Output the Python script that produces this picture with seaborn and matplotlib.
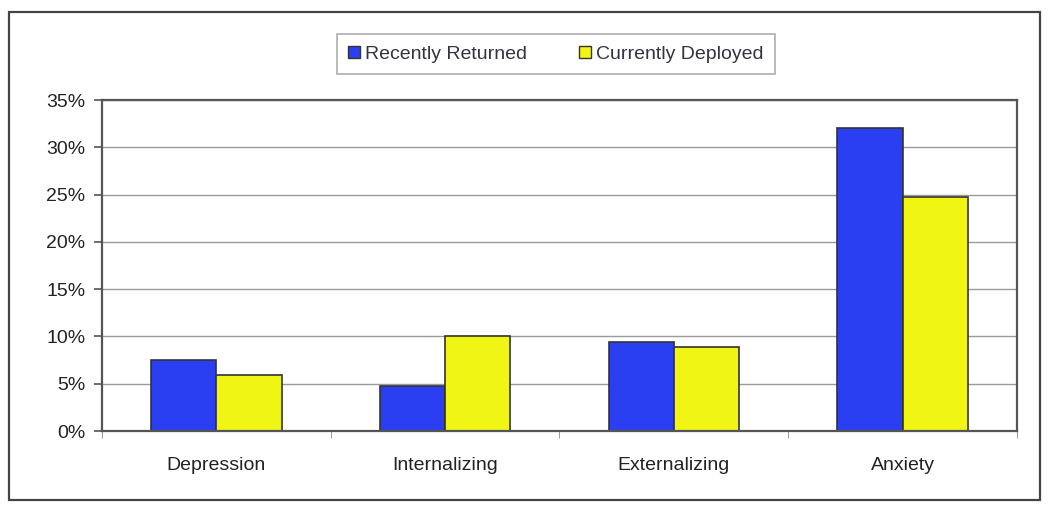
import matplotlib
matplotlib.use("Agg")
import matplotlib.pyplot as plt
import numpy as np
import pandas as pd
import seaborn as sns
from matplotlib.patches import Rectangle
from matplotlib.ticker import FuncFormatter

# Data
categories = ["Depression", "Internalizing", "Externalizing", "Anxiety"]
recently_returned = [7.5, 4.8, 9.4, 32.0]
currently_deployed = [5.9, 10.0, 8.9, 24.7]
series = ["Recently Returned", "Currently Deployed"]
colors = ["#2b3ff2", "#f0f514"]

df = pd.DataFrame({
    "category": categories * 2,
    "value": recently_returned + currently_deployed,
    "series": [series[0]] * 4 + [series[1]] * 4,
})

sns.set_style("white")
plt.rcParams['font.family'] = ['Liberation Sans', 'DejaVu Sans']

fig = plt.figure(figsize=(10.5, 5.09), dpi=100)
ax = fig.add_axes([0.0971, 0.1532, 0.8715, 0.6503])

sns.barplot(data=df, x="category", y="value", hue="series", palette=colors, saturation=1,
            width=0.57, edgecolor="#333333", linewidth=1.2, ax=ax, legend=False)

ax.set_ylim(0, 35)
ax.set_xlim(-0.5, 3.5)
ax.set_yticks(np.arange(0, 36, 5))
ax.yaxis.set_major_formatter(FuncFormatter(lambda v, p: "{:d}%".format(int(v))))
ax.yaxis.grid(True, color="#9a9a9a", linewidth=1.0)
ax.set_axisbelow(True)

# category separators as ticks on x axis
ax.set_xticks([0, 1, 2, 3])
ax.set_xticklabels(categories)
ax.set_xticks([-0.5, 0.5, 1.5, 2.5, 3.5], minor=True)
ax.tick_params(axis="x", which="major", bottom=False, pad=15, labelsize=14, labelcolor="#222222")
ax.tick_params(axis="x", which="minor", bottom=True, length=5, color="#888888", direction="out")
ax.tick_params(axis="y", left=True, length=6, width=1.2, color="#555555", direction="out",
               labelsize=14, labelcolor="#222222", pad=6)
ax.set_xlabel("")
ax.set_ylabel("")

for side in ["left", "bottom", "top", "right"]:
    ax.spines[side].set_visible(True)
    ax.spines[side].set_color("#555555")
    ax.spines[side].set_linewidth(1.6)

# legend
handles = [Rectangle((0, 0), 1, 1, facecolor=c, edgecolor="#333333", linewidth=1.0) for c in colors]
leg = fig.legend(handles, series, loc="center", bbox_to_anchor=(0.5295, 0.8935), ncol=2,
                 frameon=True, fancybox=False, fontsize=14, handlelength=0.6, handleheight=0.6,
                 handletextpad=0.25, columnspacing=2.7, borderpad=0.6, borderaxespad=0)
leg.get_frame().set_edgecolor("#999999")
leg.get_frame().set_linewidth(1.2)
for t in leg.get_texts():
    t.set_color("#333344")

# outer frame around the whole chart
fig.patches.append(Rectangle((0.009, 0.018), 0.981, 0.959, transform=fig.transFigure,
                             fill=False, edgecolor="#444444", linewidth=1.6))

fig.savefig("out.png", dpi=100)
